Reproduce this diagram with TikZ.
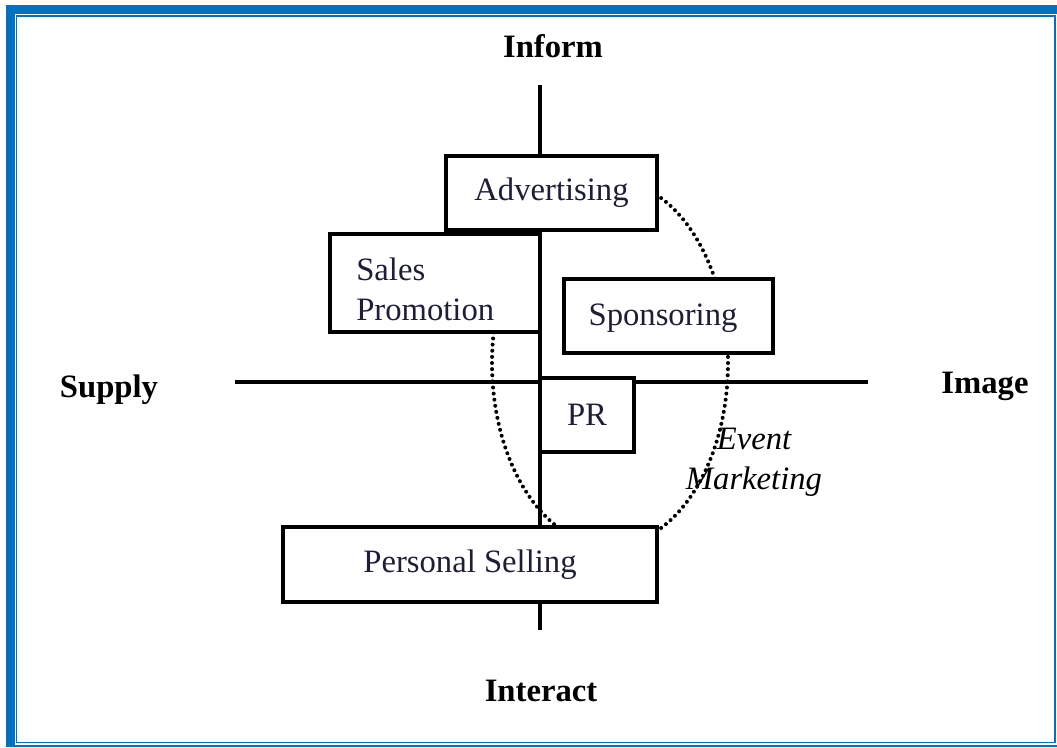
\documentclass[tikz,border=0pt]{standalone}
\usepackage{fontspec}
\setmainfont{Liberation Serif}
\definecolor{frameblue}{RGB}{0,112,192}
\definecolor{boxtext}{RGB}{30,30,55}
\begin{document}
\begin{tikzpicture}[x=0.75pt,y=-0.75pt,
  box/.style={draw, line width=2.5pt, fill=white, inner sep=0pt, text=boxtext,
    font=\fontsize{24.5}{30}\selectfont},
  boxlabel/.style={text=boxtext, inner sep=0pt, font=\fontsize{24.5}{30}\selectfont},
  axis/.style={line width=3pt},
  axlabel/.style={inner sep=0pt, font=\fontsize{24.5}{30}\selectfont\bfseries},
  dotline/.style={line width=3pt, dash pattern=on 0pt off 4.6pt, line cap=round}]
\useasboundingbox (0,0) rectangle (1057,747);
% frame
\fill[frameblue] (6,5) rectangle (1057,14);
\fill[frameblue] (6,5) rectangle (15,747);
\fill[frameblue] (15,744.5) rectangle (1057,746.5);
\draw[frameblue, line width=1.2pt] (16.5,16) rectangle (1055,742.5);
% dotted ellipse
\draw[dotline] (610,363) ellipse [x radius=118, y radius=183];
% axes
\coordinate (vtop) at (540,85);
\coordinate (vbot) at (540,630);
\coordinate (hleft) at (235,382);
\coordinate (hright) at (868,382);
\draw[axis] (vtop) -- (vbot);
\draw[axis] (hleft) -- (hright);
% boxes
\node[box, minimum width=211*0.75pt, minimum height=74*0.75pt] (adv) at (551.5,193) {Advertising};
\node[box, minimum width=210*0.75pt, minimum height=98*0.75pt] (sp) at (435,283) {};
\node[boxlabel, anchor=west, align=left] (sptext) at (356,289) {Sales\\Promotion};
\node[box, minimum width=209*0.75pt, minimum height=74*0.75pt] (spon) at (668.5,316) {};
\node[boxlabel] (spontext) at (663,318) {Sponsoring};
\node[box, minimum width=94*0.75pt, minimum height=74*0.75pt] (pr) at (587,415) {PR};
\node[box, minimum width=374*0.75pt, minimum height=75*0.75pt] (ps) at (470,564.5) {Personal Selling};
\node[inner sep=0pt, align=center, font=\fontsize{24.5}{30}\selectfont\itshape] (ev) at (754,462) {Event\\Marketing};
% axis labels
\node[axlabel] (inform) at (553,46) {Inform};
\node[axlabel] (interact) at (541,691) {Interact};
\node[axlabel] (supply) at (109,390) {Supply};
\node[axlabel] (image) at (985,386) {Image};
\end{tikzpicture}
\end{document}
